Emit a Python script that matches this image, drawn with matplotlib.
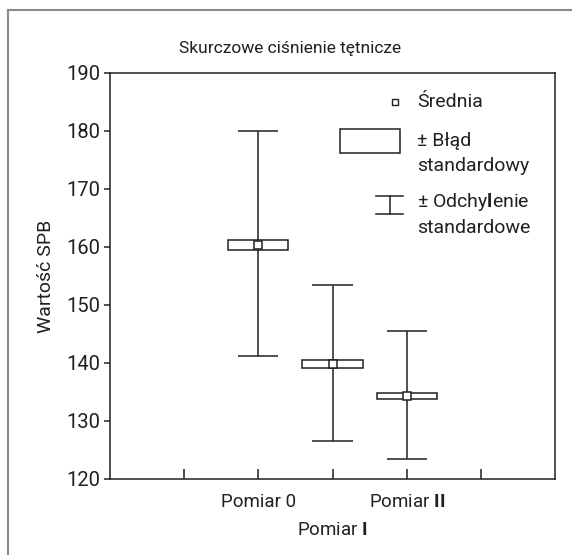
import matplotlib.pyplot as plt
from matplotlib.patches import Rectangle
from matplotlib.lines import Line2D

# === Data ===
labels = ['Pomiar 0', 'Pomiar $\\mathbf{I}$', 'Pomiar $\\mathbf{II}$']
positions = [2, 3, 4]
means = [160.4, 139.8, 134.3]
se_low = [159.5, 139.2, 133.8]
se_high = [161.2, 140.5, 134.9]
sd_low = [141.2, 126.5, 123.5]
sd_high = [180.0, 153.5, 145.6]

plt.rcParams['font.family'] = ['Roboto', 'DejaVu Sans']
plt.rcParams['mathtext.fontset'] = 'custom'
plt.rcParams['mathtext.rm'] = 'Roboto'
plt.rcParams['mathtext.bf'] = 'Roboto:bold'

ink = '#231f20'

fig = plt.figure(figsize=(5.72, 5.55), dpi=100)
ax = fig.add_axes([110 / 572, 1 - 479 / 555, 445 / 572, 406 / 555])

box_w = 0.81
cap_w = 0.54
for x, m, lo, hi, slo, shi in zip(positions, means, se_low, se_high, sd_low, sd_high):
    ax.vlines(x, slo, shi, color=ink, lw=1.1, zorder=2)
    ax.hlines([slo, shi], x - cap_w / 2, x + cap_w / 2, color=ink, lw=1.1, zorder=2)
    ax.add_patch(Rectangle((x - box_w / 2, lo), box_w, hi - lo,
                           facecolor='white', edgecolor=ink, lw=1.1, zorder=3))
    ax.plot(x, m, marker='s', ms=5.5, mfc='white', mec=ink, mew=1.1, zorder=4)

ax.set_xlim(0, 6)
ax.set_ylim(120, 190)
ax.set_yticks(range(120, 191, 10))
ax.set_xticks([1, 2, 3, 4, 5])
ax.set_xticklabels([])
ax.tick_params(axis='y', direction='out', length=4, width=1.1, labelsize=14.5, color=ink, labelcolor=ink, pad=3)
ax.tick_params(axis='x', direction='in', length=7, width=1.1, color=ink)
for s in ax.spines.values():
    s.set_linewidth(1.1)
    s.set_color(ink)

# category labels, the middle one dropped a line
tr = ax.get_xaxis_transform()
for i, (x, lab) in enumerate(zip(positions, labels)):
    dy = -0.125 if i == 1 else -0.057
    ax.text(x, dy, lab, transform=tr, ha='center', va='center', fontsize=13.5, color=ink)

ax.set_ylabel('Wartość SPB', fontsize=14, color=ink, labelpad=8)
fig.text(290 / 572, 1 - 48 / 555, 'Skurczowe ciśnienie tętnicze', ha='center', va='center',
         fontsize=12.5, color=ink)

# === Legend drawn by hand (axes fraction) ===
at = ax.transAxes
def fx(px):
    return (px - 110) / 445
def fy(py):
    return (479 - py) / 406

ax.plot(fx(395), fy(102), marker='s', ms=5, mfc='white', mec=ink, mew=1.0, transform=at, clip_on=False)
ax.add_patch(Rectangle((fx(340), fy(153)), fx(400) - fx(340), fy(129) - fy(153),
                       facecolor='white', edgecolor=ink, lw=1.1, transform=at))
ax.add_line(Line2D([fx(389.5), fx(389.5)], [fy(196), fy(214)], color=ink, lw=1.1, transform=at))
ax.add_line(Line2D([fx(376), fx(403)], [fy(196), fy(196)], color=ink, lw=1.1, transform=at))
ax.add_line(Line2D([fx(376), fx(403)], [fy(214), fy(214)], color=ink, lw=1.1, transform=at))

leg_text = [('Średnia', 102), ('± Błąd', 141), ('standardowy', 166),
            ('± Odchy$\\mathbf{l}$enie', 202), ('standardowe', 228)]
for t, py in leg_text:
    ax.text(fx(417), fy(py), t, transform=at, ha='left', va='center', fontsize=14, color=ink)

# outer frame: top and left only
fig.add_artist(Line2D([8 / 572, 1], [1 - 10 / 555, 1 - 10 / 555], color='#8a8a8a', lw=1.5,
                      transform=fig.transFigure))
fig.add_artist(Line2D([8 / 572, 8 / 572], [0, 1 - 10 / 555], color='#8a8a8a', lw=1.5,
                      transform=fig.transFigure))

fig.savefig('out.png', dpi=100)
